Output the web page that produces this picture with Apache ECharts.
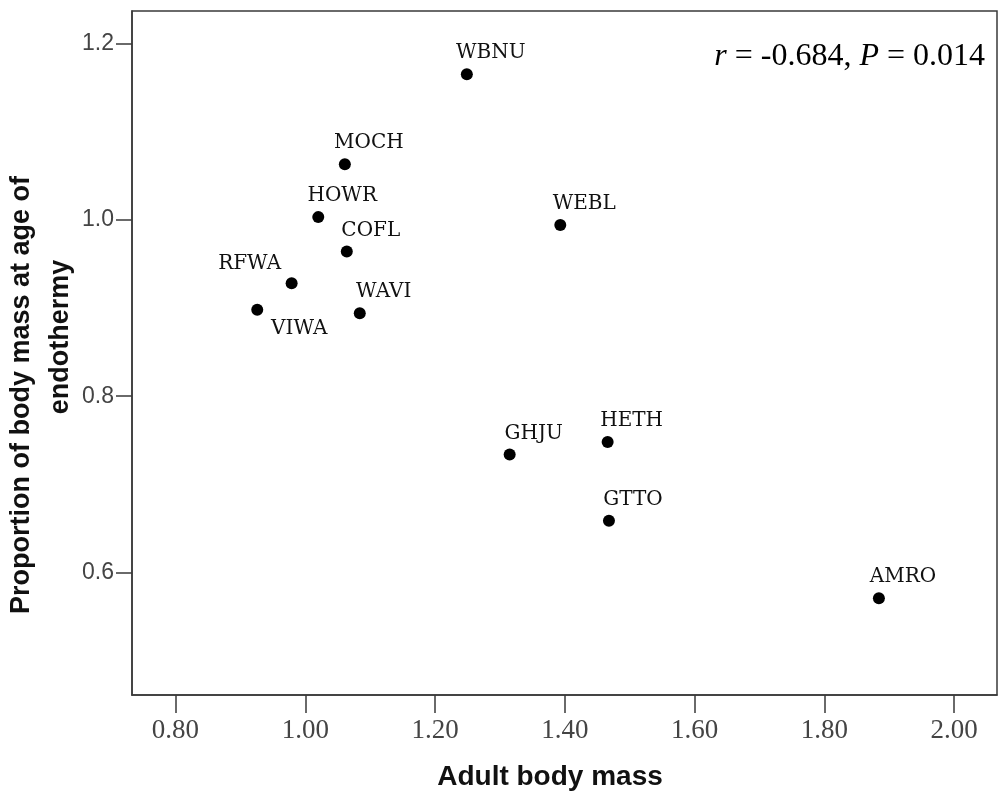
<!DOCTYPE html>
<html>
<head>
<meta charset="utf-8">
<script src="https://cdn.jsdelivr.net/npm/echarts@6/dist/echarts.min.js"></script>
<style>
  html, body { margin: 0; padding: 0; background: #fff; }
  #chart { width: 999px; height: 801px; }
</style>
</head>
<body>
<div id="chart"></div>
<script>
// species codes and their values
const codes = ['WBNU', 'MOCH', 'HOWR', 'COFL', 'RFWA', 'VIWA', 'WAVI', 'WEBL', 'GHJU', 'HETH', 'GTTO', 'AMRO']
const adultMass = [1.249, 1.061, 1.020, 1.064, 0.979, 0.926, 1.084, 1.393, 1.315, 1.466, 1.468, 1.884]
const propMass = [1.165, 1.063, 1.003, 0.964, 0.928, 0.898, 0.894, 0.994, 0.734, 0.748, 0.659, 0.571]

const xTicks = [0.8, 1.0, 1.2, 1.4, 1.6, 1.8, 2.0]
const yTicks = [0.6, 0.8, 1.0, 1.2]

const xTitle = 'Adult body mass'
const yTitle = ['Proportion of body mass at age of', 'endothermy']

const chart = echarts.init(document.getElementById('chart'))

// a couple of labels sit elsewhere than above-right
const labelPlace = {
  RFWA: { position: 'top', offset: [-42, 2] },
  VIWA: { position: 'bottom', offset: [42, -2] }
}

const points = codes.map((code, i) => {
  const item = { name: code, value: [adultMass[i], propMass[i]] }
  if (labelPlace[code]) item.label = labelPlace[code]
  return item
})

const axisColor = '#3a3a3a'

chart.setOption({
  animation: false,
  grid: {
    left: 132, right: 2, top: 11, bottom: 106,
    show: true, borderColor: axisColor, borderWidth: 1.5,
    containLabel: false
  },
  xAxis: {
    type: 'value',
    min: 0.733, max: 2.066,
    axisLine: { show: true, lineStyle: { color: axisColor, width: 1.5 } },
    axisTick: { show: true, length: 18, customValues: xTicks, lineStyle: { color: axisColor, width: 1.5 } },
    axisLabel: {
      customValues: xTicks,
      formatter: (v) => v.toFixed(2),
      margin: 22,
      fontFamily: 'Liberation Serif', fontSize: 27, color: '#444'
    },
    splitLine: { show: false }
  },
  yAxis: {
    type: 'value',
    min: 0.4614, max: 1.2366,
    axisLine: { show: true, lineStyle: { color: axisColor, width: 1.5 } },
    axisTick: { show: true, length: 16, customValues: yTicks, lineStyle: { color: axisColor, width: 1.5 } },
    axisLabel: {
      customValues: yTicks,
      formatter: (v) => v.toFixed(1),
      margin: 18,
      fontFamily: 'Liberation Sans', fontSize: 23, color: '#444'
    },
    splitLine: { show: false }
  },
  graphic: [
    {
      type: 'text', x: 550, y: 777,
      style: { text: xTitle, font: 'bold 28px "Liberation Sans"', fill: '#111', textAlign: 'center', textVerticalAlign: 'middle' }
    },
    {
      type: 'text', x: 22, y: 395, rotation: Math.PI / 2,
      style: { text: yTitle[0], font: 'bold 27px "Liberation Sans"', fill: '#111', textAlign: 'center', textVerticalAlign: 'middle' }
    },
    {
      type: 'text', x: 61, y: 337, rotation: Math.PI / 2,
      style: { text: yTitle[1], font: 'bold 27px "Liberation Sans"', fill: '#111', textAlign: 'center', textVerticalAlign: 'middle' }
    },
    {
      type: 'text', x: 985, y: 57,
      style: {
        text: '{i|r} = -0.684, {i|P} = 0.014',
        rich: { i: { fontStyle: 'italic', fontFamily: 'Liberation Serif', fontSize: 32, fill: '#000' } },
        font: '32px "Liberation Serif"', fill: '#000', textAlign: 'right', textVerticalAlign: 'middle'
      }
    }
  ],
  series: [
    {
      type: 'scatter',
      symbol: 'circle',
      symbolSize: 12,
      itemStyle: { color: '#000', opacity: 1 },
      label: {
        show: true,
        formatter: (p) => p.name,
        position: 'top',
        offset: [24, 0],
        distance: 5,
        fontFamily: 'DejaVu Serif', fontSize: 20, color: '#111'
      },
      data: points
    }
  ]
})
</script>
</body>
</html>
